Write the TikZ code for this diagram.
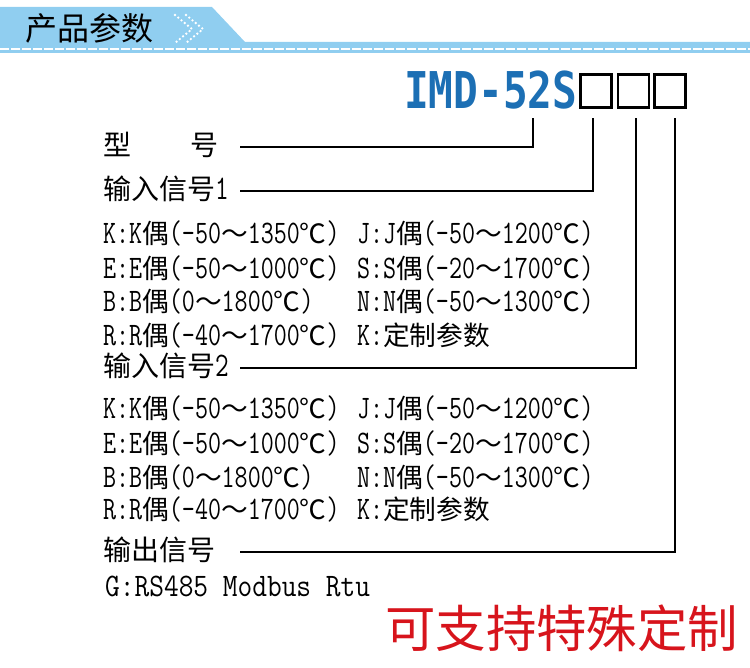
\documentclass[tikz,border=0pt]{standalone}
\usepackage{fontspec}
\setmainfont{Latin Modern Mono}
\newfontfamily\cjk{Noto Sans CJK SC}
\newfontfamily\lat[Scale=1.23,FakeStretch=0.77]{Latin Modern Mono}
\newfontfamily\latw[Scale=1.23,FakeStretch=0.87]{Latin Modern Mono}
\newfontfamily\modelfont[FakeStretch=0.81]{DejaVu Sans Mono}
\usetikzlibrary{positioning}
\definecolor{band}{HTML}{90CEF0}
\definecolor{modelblue}{HTML}{1C6FB4}
\definecolor{redtxt}{HTML}{D7141C}
\newcommand\tc[3]{{\lat #1:#1}{\cjk 偶}{\lat (#2}{\cjk ～}{\lat #3}{\cjk ℃}{\lat )}}

\begin{document}
\begin{tikzpicture}[x=1pt, y=-1pt, every node/.style={inner sep=0pt, anchor=west},
  lab/.style={font=\fontsize{28}{30}\selectfont\cjk, text width=137pt, align=left, text height=22pt, text depth=5pt},
  row/.style={font=\fontsize{26.7}{30}\selectfont, text height=22pt, text depth=5pt},
  slot/.style={draw, line width=2.7pt, minimum width=31pt, minimum height=33pt, anchor=center},
  wire/.style={line width=2.8pt},
  chev/.style={white, line width=2.6pt, line cap=round, dash pattern=on 0pt off 4.2pt}]
\useasboundingbox (0,0) rectangle (750,668);
\fill[band] (0,7) -- (212,7) -- (245,42) -- (750,42) -- (750,53) -- (0,53) -- cycle;
\draw[white, line width=1.2pt, dash pattern=on 9pt off 2pt] (0,49) -- (750,49);
\node[font=\fontsize{32}{34}\selectfont\cjk] (title) at (25,28) {产品参数};
\draw[chev] (175,15) -- (192,29) -- (175,43);\draw[chev] (186,15) -- (203,29) -- (186,43);

\node[anchor=base west, font=\fontsize{50.7}{52}\selectfont\modelfont\bfseries, text=modelblue] (model) at (404,109) {IMD-52S};
\node[slot] (sA) at (596,91) {};\node[slot] (sB) at (633.5,91) {};\node[slot] (sC) at (670,91) {};
\coordinate (t0) at (533,118);\coordinate (tA) at (593,118);\coordinate (tB) at (636,118);\coordinate (tC) at (675,118);

\node[lab] (lxh) at (103,147) {型\hspace{59pt}号};
\node[lab] (lin1) at (103,191) {输入信号{\lat 1}};
\node[lab] (lin2) at (103,368) {输入信号{\lat 2}};
\node[lab] (lout) at (103,552) {输出信号};
\draw[wire] (lxh.east) -| (t0);\draw[wire] (lin1.east) -| (tA);\draw[wire] (lin2.east) -| (tB);\draw[wire] (lout.east) -| (tC);

\node[row] (a1) at (103,235) {\tc{K}{-50}{1350}};\node[row] (a2) at (357,235) {\tc{J}{-50}{1200}};
\node[row] (a3) at (103,270) {\tc{E}{-50}{1000}};\node[row] (a4) at (357,270) {\tc{S}{-20}{1700}};
\node[row] (a5) at (103,303) {{\lat B:B}{\cjk 偶}{\lat (0}{\cjk ～}{\lat 1800}{\cjk ℃}{\lat )}};\node[row] (a6) at (357,303) {\tc{N}{-50}{1300}};
\node[row] (a7) at (103,337) {\tc{R}{-40}{1700}};\node[row] (a8) at (357,337) {{\lat K:}{\cjk 定制参数}};

\node[row] (b1) at (103,410) {\tc{K}{-50}{1350}};\node[row] (b2) at (357,410) {\tc{J}{-50}{1200}};
\node[row] (b3) at (103,445) {\tc{E}{-50}{1000}};\node[row] (b4) at (357,445) {\tc{S}{-20}{1700}};
\node[row] (b5) at (103,479) {{\lat B:B}{\cjk 偶}{\lat (0}{\cjk ～}{\lat 1800}{\cjk ℃}{\lat )}};\node[row] (b6) at (357,479) {\tc{N}{-50}{1300}};
\node[row] (b7) at (103,511) {\tc{R}{-40}{1700}};\node[row] (b8) at (357,511) {{\lat K:}{\cjk 定制参数}};

\node[row] (gout) at (105,588) {\latw G:RS485 Modbus Rtu};
\node[font=\fontsize{50.4}{52}\selectfont\cjk, text=redtxt] (custom) at (385,628) {可支持特殊定制};
\end{tikzpicture}
\end{document}
